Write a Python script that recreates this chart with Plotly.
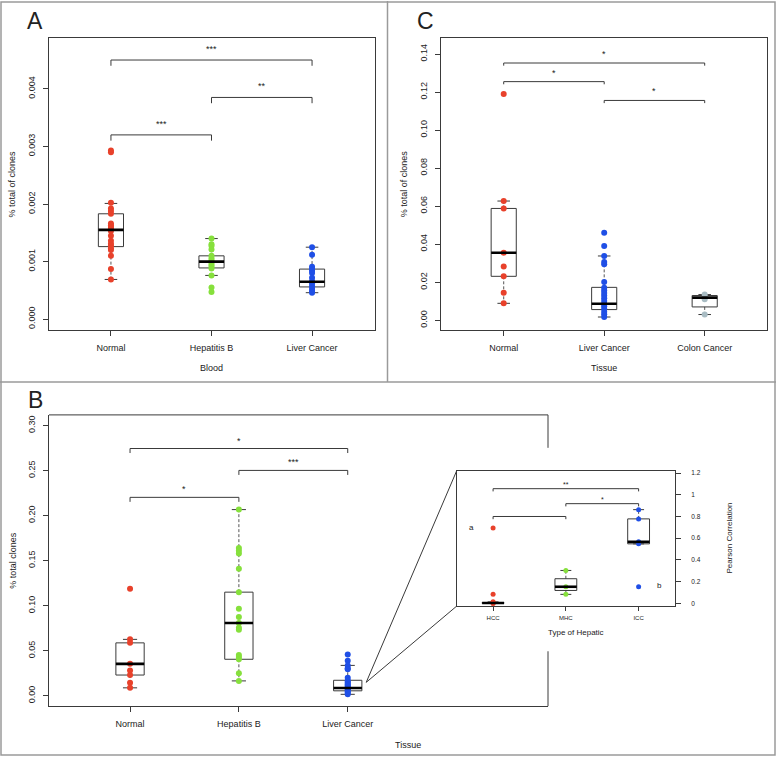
import plotly.graph_objects as go

W, H = 776, 757
FONT = "Liberation Sans, Arial, Helvetica, sans-serif"
INK = "#222222"
FRAME = "#3a3a3a"
BORDER = "#9a9a9a"
RED = "#e8412b"
GREEN = "#86e03c"
BLUE = "#1f4fe6"
GREY = "#a9bcc3"

# ---------------- data ----------------
# Panel A: blood
blood_cats = ["Normal", "Hepatitis B", "Liver Cancer"]
blood_normal = [0.00293, 0.0029, 0.00202, 0.00192, 0.00188, 0.00183, 0.00166, 0.00163,
                0.0016, 0.00157, 0.00153, 0.00145, 0.00136, 0.00131, 0.00128, 0.00123,
                0.0012, 0.0011, 0.00087, 0.00069]
blood_hepb = [0.0014, 0.0013, 0.00127, 0.00121, 0.0011, 0.00106, 0.00102, 0.00099,
              0.00095, 0.00092, 0.00088, 0.00076, 0.00055, 0.00047]
blood_liver = [0.00125, 0.00112, 0.00091, 0.00087, 0.00084, 0.0008, 0.00072, 0.00066,
               0.00062, 0.00057, 0.00053, 0.00049, 0.00046]
blood_q1 = [0.00126, 0.00089, 0.00056]
blood_med = [0.00155, 0.001, 0.00065]
blood_q3 = [0.00183, 0.0011, 0.00087]
blood_lo = [0.00069, 0.00076, 0.00046]
blood_hi = [0.00201, 0.0014, 0.00125]
blood_ticks = [0.0, 0.001, 0.002, 0.003, 0.004]
blood_ticktext = ["0.000", "0.001", "0.002", "0.003", "0.004"]
blood_sig = [(1, 3, 0.0045, "***"), (2, 3, 0.00385, "**"), (1, 2, 0.0032, "***")]

# Tissue groups (panels B and C)
tissue_normal = [0.119, 0.0627, 0.0588, 0.0355, 0.0282, 0.0231, 0.0145, 0.0089]
tissue_hepb = [0.2067, 0.164, 0.161, 0.158, 0.141, 0.1151, 0.0967, 0.0875, 0.0808,
               0.0757, 0.0735, 0.0454, 0.043, 0.0406, 0.0251, 0.0166]
tissue_liver = [0.046, 0.039, 0.0338, 0.0306, 0.0294, 0.0201, 0.0171, 0.0157, 0.0143,
                0.013, 0.0115, 0.0101, 0.0087, 0.0073, 0.006, 0.0045, 0.0031, 0.0017]
tissue_colon = [0.0135, 0.0122, 0.011, 0.003]

# Panel C
c_cats = ["Normal", "Liver Cancer", "Colon Cancer"]
c_q1 = [0.0231, 0.0056, 0.007]
c_med = [0.0355, 0.0087, 0.0119]
c_q3 = [0.0588, 0.0173, 0.013]
c_lo = [0.0089, 0.0017, 0.003]
c_hi = [0.0627, 0.0338, 0.0135]
c_ticks = [0.0, 0.02, 0.04, 0.06, 0.08, 0.10, 0.12, 0.14]
c_ticktext = ["0.00", "0.02", "0.04", "0.06", "0.08", "0.10", "0.12", "0.14"]
c_sig = [(1, 3, 0.1353, "*"), (1, 2, 0.1255, "*"), (2, 3, 0.1156, "*")]

# Panel B
b_cats = ["Normal", "Hepatitis B", "Liver Cancer"]
b_q1 = [0.0231, 0.0406, 0.0056]
b_med = [0.0355, 0.0808, 0.0087]
b_q3 = [0.0588, 0.1151, 0.0173]
b_lo = [0.0089, 0.0166, 0.0017]
b_hi = [0.0627, 0.2067, 0.0338]
b_ticks = [0.0, 0.05, 0.10, 0.15, 0.20, 0.25, 0.30]
b_ticktext = ["0.00", "0.05", "0.10", "0.15", "0.20", "0.25", "0.30"]
b_sig = [(1, 3, 0.2745, "*"), (2, 3, 0.2502, "***"), (1, 2, 0.2203, "*")]

# Inset: type of hepatic, Pearson correlation
hep_cats = ["HCC", "MHC", "ICC"]
hep_hcc = [0.695, 0.083, 0.014, 0.008, 0.004, 0.0]
hep_mhc = [0.303, 0.153, 0.083]
hep_icc = [0.863, 0.778, 0.567, 0.548, 0.153]
hep_q1 = [0.0, 0.119, 0.548]
hep_med = [0.004, 0.153, 0.567]
hep_q3 = [0.008, 0.227, 0.778]
hep_lo = [0.0, 0.083, 0.548]
hep_hi = [0.014, 0.303, 0.863]
hep_ticks = [0, 0.2, 0.4, 0.6, 0.8, 1.0, 1.2]
hep_ticktext = ["0", "0.2", "0.4", "0.6", "0.8", "1", "1.2"]
hep_sig = [(1, 3, 1.056, "**"), (2, 3, 0.918, "*"), (1, 2, 0.80, "")]

# ---------------- layout geometry (pixels) ----------------
A_X, A_Y = (49, 375), (37, 330)
C_X, C_Y = (441, 767), (37, 330)
B_X, B_Y = (49, 548), (415, 707)
I_X, I_Y = (456.7, 675), (471, 606.7)

A_RX, A_RY = [0.384, 3.626], [-0.00019, 0.004884]
C_RX, C_RY = [0.376, 3.62], [-0.0052, 0.1485]
B_RX, B_RY = [0.2555, 4.84], [-0.0114, 0.3118]
I_RX, I_RY = [0.5, 3.5], [-0.025, 1.221]


def dx(p):
    return [p[0] / W, p[1] / W]


def dy(p):
    return [1 - p[1] / H, 1 - p[0] / H]


fig = go.Figure()


def add_panel(xa, ya, groups, colors, q1, med, q3, lo, hi, w, msize):
    bx, by, wx, wy, sx, sy, mx, my = [], [], [], [], [], [], [], []
    for i in range(len(q1)):
        c = i + 1
        bx += [c - w / 2, c + w / 2, c + w / 2, c - w / 2, c - w / 2, None]
        by += [q1[i], q1[i], q3[i], q3[i], q1[i], None]
        wx += [c, c, None, c, c, None]
        wy += [q3[i], hi[i], None, q1[i], lo[i], None]
        sx += [c - w / 4, c + w / 4, None, c - w / 4, c + w / 4, None]
        sy += [hi[i], hi[i], None, lo[i], lo[i], None]
        mx += [c - w / 2, c + w / 2, None]
        my += [med[i], med[i], None]
    common = dict(mode="lines", xaxis=xa, yaxis=ya, hoverinfo="skip", showlegend=False)
    fig.add_trace(go.Scatter(x=wx, y=wy, line=dict(color="#555555", width=1, dash="3px,2px"), **common))
    fig.add_trace(go.Scatter(x=sx, y=sy, line=dict(color=FRAME, width=1), **common))
    fig.add_trace(go.Scatter(x=bx, y=by, line=dict(color=FRAME, width=1), **common))
    for i, vals in enumerate(groups):
        fig.add_trace(go.Scatter(
            x=[i + 1] * len(vals), y=vals, mode="markers", xaxis=xa, yaxis=ya,
            marker=dict(color=colors[i], size=msize, line=dict(width=0)),
            showlegend=False, hoverinfo="y"))
    fig.add_trace(go.Scatter(x=mx, y=my, line=dict(color="#000000", width=2.6), **common))


def add_sig(xa, ya, comps, drop, yshift, size):
    for i, j, yv, lab in comps:
        fig.add_trace(go.Scatter(
            x=[i, i, j, j], y=[yv - drop, yv, yv, yv - drop], mode="lines",
            line=dict(color=FRAME, width=1), xaxis=xa, yaxis=ya,
            hoverinfo="skip", showlegend=False))
        if lab:
            fig.add_annotation(x=(i + j) / 2, y=yv, xref=xa, yref=ya, text=lab,
                               showarrow=False, yshift=yshift, yanchor="middle",
                               font=dict(size=size, color=INK))


add_panel("x", "y", [blood_normal, blood_hepb, blood_liver], [RED, GREEN, BLUE],
          blood_q1, blood_med, blood_q3, blood_lo, blood_hi, 0.25, 6)
add_sig("x", "y", blood_sig, 0.0001, 11, 9)

add_panel("x2", "y2", [tissue_normal, tissue_liver, tissue_colon], [RED, BLUE, GREY],
          c_q1, c_med, c_q3, c_lo, c_hi, 0.25, 6)
add_sig("x2", "y2", c_sig, 0.0014, 9, 9)

add_panel("x3", "y3", [tissue_normal, tissue_hepb, tissue_liver], [RED, GREEN, BLUE],
          b_q1, b_med, b_q3, b_lo, b_hi, 0.26, 6)
add_sig("x3", "y3", b_sig, 0.005, 8, 9)

add_panel("x4", "y4", [hep_hcc, hep_mhc, hep_icc], [RED, GREEN, BLUE],
          hep_q1, hep_med, hep_q3, hep_lo, hep_hi, 0.3, 5)
add_sig("x4", "y4", hep_sig, 0.025, 4, 7)


def ax(**kw):
    base = dict(showgrid=False, zeroline=False, showline=True, linecolor=FRAME,
                linewidth=1, ticks="outside", ticklen=5, tickcolor=FRAME, tickwidth=1,
                tickfont=dict(size=9, color=INK, family=FONT), fixedrange=True)
    base.update(kw)
    return base


fig.update_layout(
    width=W, height=H, autosize=False,
    margin=dict(l=0, r=0, t=0, b=0),
    paper_bgcolor="white", plot_bgcolor="white",
    font=dict(family=FONT, color=INK),
    showlegend=False,
    xaxis=ax(domain=dx(A_X), range=A_RX, anchor="y", mirror=True,
             tickvals=[1, 2, 3], ticktext=blood_cats, ticklabelstandoff=4),
    yaxis=ax(domain=dy(A_Y), range=A_RY, anchor="x", mirror=True,
             tickvals=blood_ticks, ticktext=blood_ticktext, tickangle=-90,
             ticklabelstandoff=4),
    xaxis2=ax(domain=dx(C_X), range=C_RX, anchor="y2", mirror=True,
              tickvals=[1, 2, 3], ticktext=c_cats, ticklabelstandoff=4),
    yaxis2=ax(domain=dy(C_Y), range=C_RY, anchor="x2", mirror=True,
              tickvals=c_ticks, ticktext=c_ticktext, tickangle=-90,
              ticklabelstandoff=4),
    xaxis3=ax(domain=dx(B_X), range=B_RX, anchor="y3",
              tickvals=[1, 2, 3], ticktext=b_cats, ticklabelstandoff=4),
    yaxis3=ax(domain=dy(B_Y), range=B_RY, anchor="x3",
              tickvals=b_ticks, ticktext=b_ticktext, tickangle=-90,
              ticklabelstandoff=4),
    xaxis4=ax(domain=dx(I_X), range=I_RX, anchor="y4", mirror=True,
              tickvals=[1, 2, 3], ticktext=hep_cats, ticklen=4,
              tickfont=dict(size=6, color=INK, family=FONT), ticklabelstandoff=2),
    yaxis4=ax(domain=dy(I_Y), range=I_RY, anchor="x4", mirror=True, side="right",
              tickvals=hep_ticks, ticktext=hep_ticktext, ticklen=5,
              tickfont=dict(size=6.5, color=INK, family=FONT), ticklabelstandoff=9),
)


def pline(x0, y0, x1, y1, color=FRAME, width=1):
    fig.add_shape(type="line", xref="paper", yref="paper",
                  x0=x0 / W, y0=1 - y0 / H, x1=x1 / W, y1=1 - y1 / H,
                  line=dict(color=color, width=width), layer="above")


# figure border and panel dividers
fig.add_shape(type="rect", xref="paper", yref="paper", x0=1 / W, y0=1 / H,
              x1=1 - 1 / W, y1=1 - 1 / H, line=dict(color=BORDER, width=1.5))
pline(0, 382, W, 382, BORDER, 1.5)
pline(387.5, 0, 387.5, 382, BORDER, 1.5)

# panel B frame (open where the inset sits)
pline(B_X[0], B_Y[0], B_X[1], B_Y[0])
pline(B_X[1], B_Y[0], B_X[1], 448)
pline(B_X[1], 652, B_X[1], B_Y[1])

# zoom lines from the liver cancer box to the inset
zx, zy = 3.17, 0.015
sx = B_X[0] + (zx - B_RX[0]) / (B_RX[1] - B_RX[0]) * (B_X[1] - B_X[0])
sy = B_Y[1] - (zy - B_RY[0]) / (B_RY[1] - B_RY[0]) * (B_Y[1] - B_Y[0])
pline(sx, sy, I_X[0], I_Y[0])
pline(sx, sy, I_X[0], I_Y[1])


def ptext(x, y, text, size, angle=0):
    fig.add_annotation(x=x / W, y=1 - y / H, xref="paper", yref="paper", text=text,
                       showarrow=False, textangle=angle, xanchor="center",
                       yanchor="middle", font=dict(size=size, color=INK, family=FONT))


ptext(35, 20, "A", 23)
ptext(425.5, 20, "C", 23)
ptext(35, 400.5, "B", 23)

ptext(12.5, 183.5, "% total of clones", 9, -90)
ptext(212, 368, "Blood", 9)
ptext(404.3, 183.5, "% total of clones", 9, -90)
ptext(604, 368.3, "Tissue", 9)
ptext(12.3, 561, "% total clones", 9, -90)
ptext(408, 745.7, "Tissue", 9)
ptext(575.8, 632.7, "Type of Hepatic", 8)
ptext(730, 539, "Pearson Correlation", 8, -90)

fig.add_annotation(x=0.70, y=0.695, xref="x4", yref="y4", text="a", showarrow=False,
                   font=dict(size=8, color=INK))
fig.add_annotation(x=3.29, y=0.165, xref="x4", yref="y4", text="b", showarrow=False,
                   font=dict(size=8, color=INK))

fig.write_html("out.html", config={"displayModeBar": False},
               post_script="document.body.style.margin='0';")
